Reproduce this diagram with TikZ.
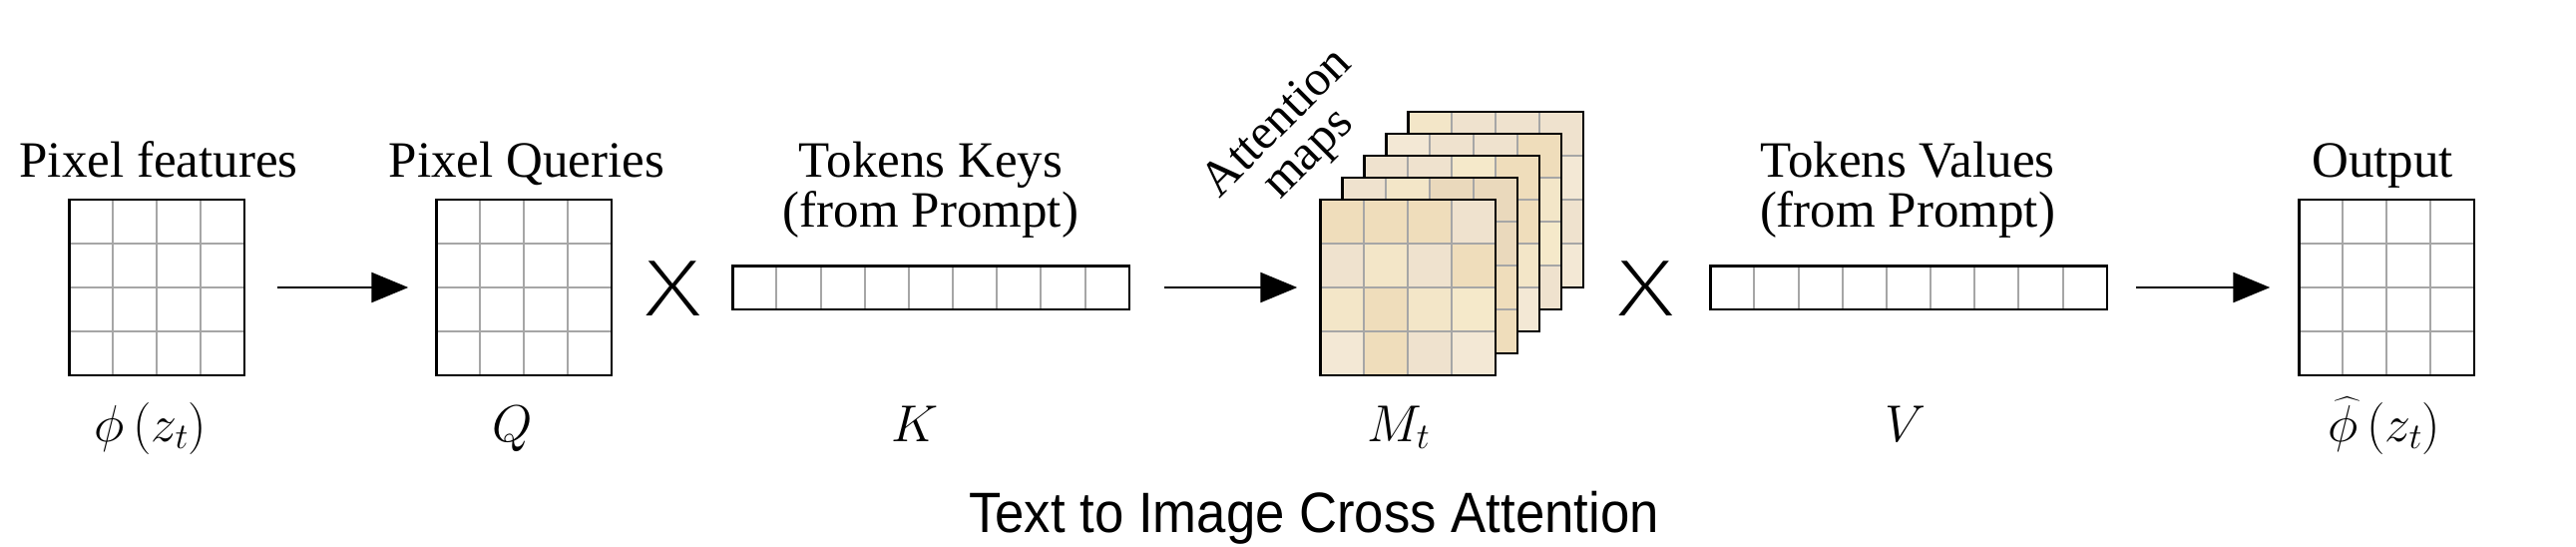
\RequirePackage{fix-cm}
\documentclass[tikz,border=0pt]{standalone}
\usepackage{amsmath}
\usepackage[no-math]{fontspec}
\setmainfont{Liberation Serif}
\newfontfamily\capfont{Liberation Sans}
\newfontfamily\xfont{Fira Sans ExtraLight}
\usetikzlibrary{arrows.meta,calc}
\definecolor{gridgray}{RGB}{166,166,166}
\definecolor{mA}{RGB}{239,221,187}
\definecolor{mB}{RGB}{243,230,200}
\definecolor{mC}{RGB}{239,226,206}
\definecolor{mD}{RGB}{245,233,202}
\definecolor{mE}{RGB}{243,232,213}
\definecolor{mF}{RGB}{234,217,188}
\tikzset{
  every node/.style={inner sep=0pt, outer sep=0pt},
  gbox/.style={minimum width=175.5pt, minimum height=175.5pt},
  barbox/.style={minimum width=397.5pt, minimum height=43.5pt},
  gline/.style={draw=gridgray, line width=2pt},
  gborder/.style={draw=black, line width=2.5pt},
  lbl/.style={font=\fontsize{51}{50}\selectfont, anchor=base},
  mlbl/.style={font=\fontsize{52}{52}\selectfont, anchor=base},
  timesign/.style={font=\xfont\fontsize{80}{80}\selectfont, xscale=1.4, transform shape},
  arr/.style={line width=2.5pt, -{Triangle[length=37pt,width=30pt]}},
}
\newcommand\gridlines[1]{%
  \foreach \k in {1,2,3}{%
    \draw[gline] ($(#1.north west)!\k/4!(#1.north east)$) -- ($(#1.south west)!\k/4!(#1.south east)$);
    \draw[gline] ($(#1.north west)!\k/4!(#1.south west)$) -- ($(#1.north east)!\k/4!(#1.south east)$);
  }%
  \draw[gborder] (#1.north west) rectangle (#1.south east);
}
\newcommand\barlines[1]{%
  \foreach \k in {1,...,8}{%
    \draw[gline] ($(#1.north west)!\k/9!(#1.north east)$) -- ($(#1.south west)!\k/9!(#1.south east)$);
  }%
  \draw[gborder] (#1.north west) rectangle (#1.south east);
}
\newcommand\mapcells[2]{%
  \foreach \c [count=\n from 0] in {#2}{%
    \pgfmathtruncatemacro\rr{\n/4}%
    \pgfmathtruncatemacro\qq{mod(\n,4)}%
    \fill[\c] ($(#1.north west)+(\qq*43.875,\rr*43.875)$) rectangle ++(43.875,43.875);
  }%
  \gridlines{#1}%
}
\begin{document}
\begin{tikzpicture}[x=1pt,y=-1pt]
\useasboundingbox (0,0) rectangle (2582,548);

% pixel features
\node[gbox] (pf) at (157,288) {};
\gridlines{pf}
\node[lbl] (pflbl) at (159,178) {Pixel features};
\node[mlbl] (pfm) at (151,442) {$\phi\left(z_t\right)$};

% pixel queries
\node[gbox] (pq) at (525,288) {};
\gridlines{pq}
\node[lbl] (pqlbl) at (528,178) {Pixel Queries};
\node[mlbl] (pqm) at (514,442) {$Q$};

\node[timesign] (x1) at (675,289) {X};

% keys
\node[barbox] (kb) at (933,288) {};
\barlines{kb}
\node[lbl] (kl1) at (933,178) {Tokens Keys};
\node[lbl] (kl2) at (933,227) {(from Prompt)};
\node[mlbl] (km) at (917,442) {$K$};

% attention maps
\foreach \k in {0,...,4}{\node[gbox] (map\k) at ({1411+22*\k},{288-22*\k}) {};}
\mapcells{map4}{mB,mC,mC,mC, mA,mE,mB,mE, mC,mB,mA,mC, mE,mA,mC,mE}
\mapcells{map3}{mE,mC,mC,mA, mB,mA,mE,mB, mA,mB,mC,mD, mB,mE,mA,mC}
\mapcells{map2}{mC,mC,mD,mA, mA,mB,mC,mA, mB,mD,mA,mB, mE,mC,mA,mE}
\mapcells{map1}{mC,mB,mF,mF, mB,mA,mC,mF, mA,mB,mD,mA, mC,mA,mB,mA}
\mapcells{map0}{mA,mA,mA,mC, mC,mB,mC,mA, mB,mA,mB,mD, mE,mA,mC,mE}
\node[font=\fontsize{50}{44}\selectfont, align=center, rotate=45] (maplbl) at (1297,140) {Attention\\maps};
\node[mlbl] (mm) at (1402,442) {$M_t$};

\node[timesign] (x2) at (1650,289) {X};

% values
\node[barbox] (vb) at (1913,288) {};
\barlines{vb}
\node[lbl] (vl1) at (1912,178) {Tokens Values};
\node[lbl] (vl2) at (1912,227) {(from Prompt)};
\node[mlbl] (vm) at (1910,442) {$V$};

% output
\node[gbox] (out) at (2392,288) {};
\gridlines{out}
\node[lbl] (outlbl) at (2388,178) {Output};
\node[mlbl] (outm) at (2390,442) {$\widehat{\phi}\left(z_t\right)$};

% arrows
\draw[arr, shorten <=33pt, shorten >=28pt] (pf.east) -- (pq.west);
\draw[arr, shorten <=35pt, shorten >=23pt] (kb.east) -- (map0.west);
\draw[arr, shorten <=29pt, shorten >=29pt] (vb.east) -- (out.west);

% caption
\node[font=\capfont\fontsize{57}{60}\selectfont, anchor=base, xscale=0.925, transform shape] (cap) at (1317,533) {Text to Image Cross Attention};
\end{tikzpicture}
\end{document}
